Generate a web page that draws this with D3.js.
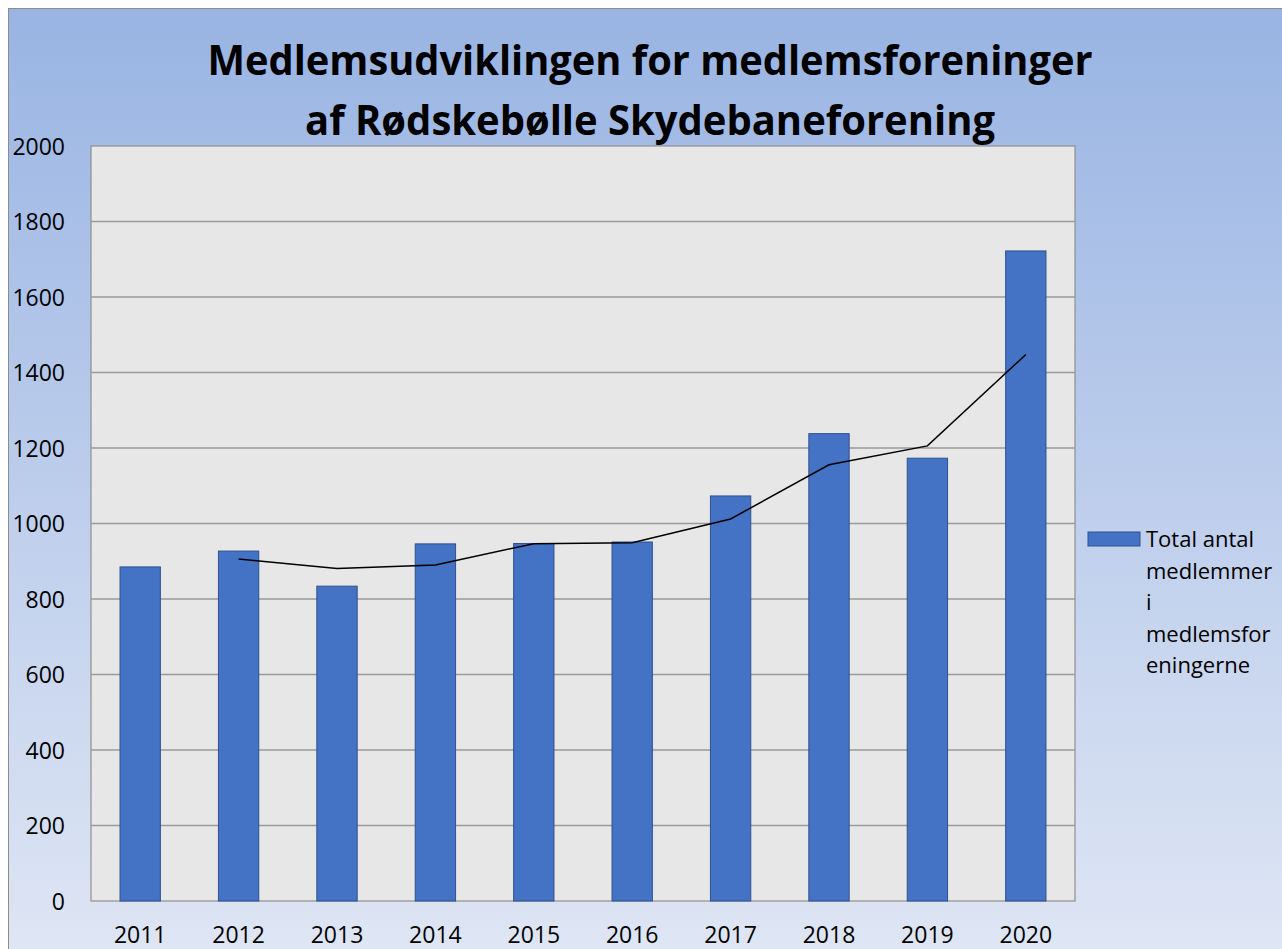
<!DOCTYPE html>
<html><head><meta charset="utf-8">
<script src="https://cdn.jsdelivr.net/npm/d3@7"></script>
<style>html,body{margin:0;padding:0;background:#fff;}svg{display:block;}</style>
</head><body>
<script>
const years = ["2011","2012","2013","2014","2015","2016","2017","2018","2019","2020"];
const members = [885, 927, 834, 946, 947, 951, 1073, 1238, 1173, 1722];
const yTicks = [0, 200, 400, 600, 800, 1000, 1200, 1400, 1600, 1800, 2000];
const titleLines = ["Medlemsudviklingen for medlemsforeninger", "af Rødskebølle Skydebaneforening"];
const legendLines = ["Total antal", "medlemmer", "i", "medlemsfor", "eningerne"];

// 2-period moving average trendline (as in the original chart)
const trend = members.map((v, i) => i === 0 ? null : (v + members[i - 1]) / 2);

const W = 1282, H = 949;
const font = "'Open Sans', sans-serif";
const svg = d3.select("body").append("svg").attr("width", W).attr("height", H);

const defs = svg.append("defs");
const grad = defs.append("linearGradient").attr("id", "bg").attr("x1", 0).attr("y1", 0).attr("x2", 0).attr("y2", 1);
grad.append("stop").attr("offset", "0%").attr("stop-color", "#99b4e3");
grad.append("stop").attr("offset", "100%").attr("stop-color", "#dfe6f4");

svg.append("rect").attr("x", 8.5).attr("y", 8.5).attr("width", W).attr("height", H)
  .attr("fill", "url(#bg)").attr("stroke", "#8c8c8c").attr("stroke-width", 1);

const plot = {left: 91, top: 146, right: 1075, bottom: 901};

const x = d3.scaleBand().domain(years).range([plot.left, plot.right]).paddingInner(0.59).paddingOuter(0.295);
const y = d3.scaleLinear().domain([0, 2000]).range([plot.bottom, plot.top]);

svg.append("rect").attr("x", plot.left).attr("y", plot.top)
  .attr("width", plot.right - plot.left).attr("height", plot.bottom - plot.top)
  .attr("fill", "#e7e7e7").attr("stroke", "#8f8f8f").attr("stroke-width", 1.2);

// gridlines
svg.append("g").selectAll("line").data(yTicks.filter(t => t > 0 && t < 2000)).join("line")
  .attr("x1", plot.left).attr("x2", plot.right)
  .attr("y1", d => y(d)).attr("y2", d => y(d))
  .attr("stroke", "#9a9a9a").attr("stroke-width", 1.5);

// bars
svg.append("g").selectAll("rect").data(members).join("rect")
  .attr("x", (d, i) => x(years[i]))
  .attr("width", x.bandwidth())
  .attr("y", d => y(d))
  .attr("height", d => y(0) - y(d))
  .attr("fill", "#4472c4").attr("stroke", "#2f528f").attr("stroke-width", 1);

// trendline
const xc = yr => x(yr) + x.bandwidth() / 2;
const line = d3.line().defined(d => d.v !== null).x(d => xc(d.yr)).y(d => y(d.v));
svg.append("path").datum(years.map((yr, i) => ({yr, v: trend[i]})))
  .attr("d", line).attr("fill", "none").attr("stroke", "#000").attr("stroke-width", 1.5);

// y axis labels
const yAxis = d3.axisLeft(y).tickValues(yTicks).tickSize(0).tickPadding(0).tickFormat(d3.format("d"));
const ya = svg.append("g").attr("transform", `translate(65,0)`).call(yAxis);
ya.select(".domain").remove();
ya.selectAll("text").attr("font-family", font).attr("font-size", 23).attr("fill", "#000").attr("dy", null).attr("y", 8.3);

// x axis labels
const xAxis = d3.axisBottom(x).tickSize(0).tickPadding(0);
const xa = svg.append("g").attr("transform", `translate(0,${plot.bottom})`).call(xAxis);
xa.select(".domain").remove();
xa.selectAll("text").attr("font-family", font).attr("font-size", 23).attr("fill", "#000").attr("dy", null).attr("y", 42);

// title
const titleW = [885, 690];
svg.append("g").selectAll("text").data(titleLines).join("text")
  .attr("x", 650).attr("y", (d, i) => 75 + i * 60)
  .attr("text-anchor", "middle").attr("font-family", font).attr("font-weight", "bold")
  .attr("font-size", 41).attr("fill", "#000")
  .attr("textLength", (d, i) => titleW[i]).attr("lengthAdjust", "spacingAndGlyphs")
  .text(d => d);

// legend
svg.append("rect").attr("x", 1088).attr("y", 532).attr("width", 52).attr("height", 14)
  .attr("fill", "#4472c4").attr("stroke", "#2f528f").attr("stroke-width", 1);
svg.append("g").selectAll("text").data(legendLines).join("text")
  .attr("x", 1146).attr("y", (d, i) => 547 + i * 31.5)
  .attr("font-family", font).attr("font-size", 22).attr("fill", "#000").text(d => d);
</script>
</body></html>
